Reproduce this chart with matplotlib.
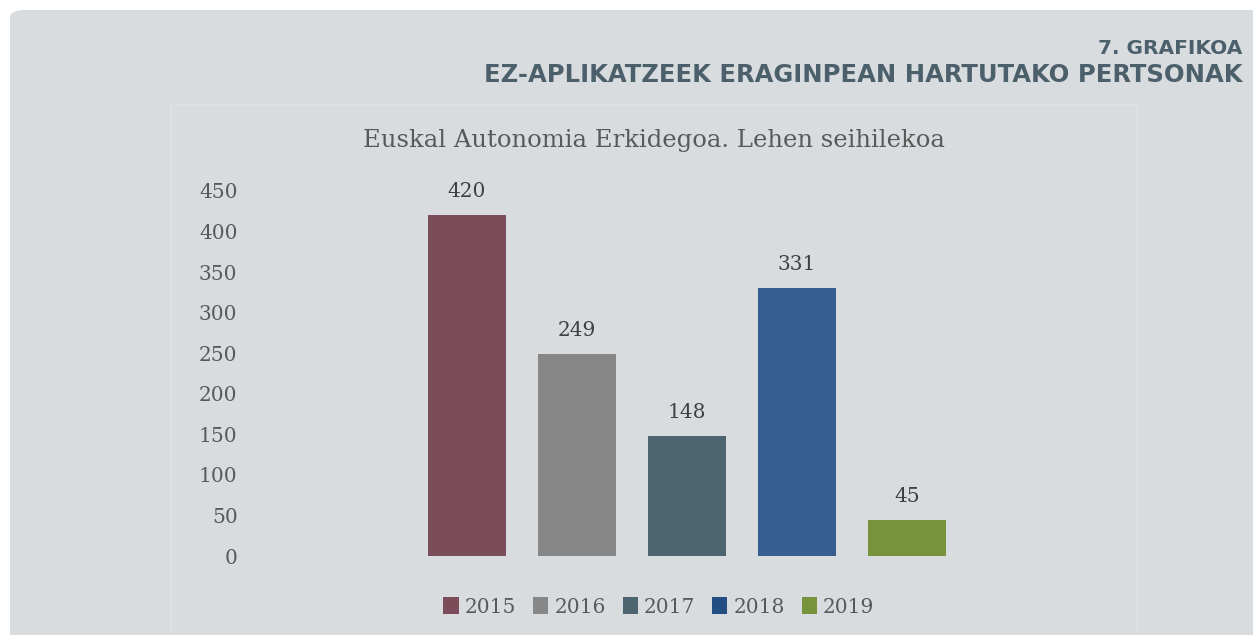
import matplotlib.pyplot as plt
from matplotlib.patches import FancyBboxPatch, Rectangle, Patch

# data
years = ['2015', '2016', '2017', '2018', '2019']
persons = [420, 249, 148, 331, 45]
yticks = [0, 50, 100, 150, 200, 250, 300, 350, 400, 450]

bar_colors = ['#7B4D5A', '#888787', '#4D6570', '#365F8F', '#77933C']
legend_colors = ['#7B4D5A', '#888787', '#4D6570', '#234E84', '#77933C']

W, H = 1253, 635
fig = plt.figure(figsize=(W / 100, H / 100), dpi=100)
fig.patch.set_facecolor('white')

# grey card behind everything
card = FancyBboxPatch((10 / W, -0.2), 1.2, 1.2 - 10 / H,
                      boxstyle='round,pad=0,rounding_size=0.012',
                      transform=fig.transFigure, facecolor='#D9DCDF',
                      edgecolor='none', zorder=-3)
fig.patches.append(card)
# faint frame of the chart area
frame = Rectangle((171 / W, -0.01), (1137 - 171) / W, 1 - 105 / H + 0.01,
                  transform=fig.transFigure, facecolor='none',
                  edgecolor='#DFE1E3', lw=1.2, zorder=-2)
fig.patches.append(frame)

head_color = '#4C606C'
fig.text(1242 / W, 1 - 49 / H, '7. GRAFIKOA', ha='right', va='center',
         fontsize=14.5, fontweight='heavy', color=head_color, family='DejaVu Sans')
fig.text(1242 / W, 1 - 75 / H, 'EZ-APLIKATZEEK ERAGINPEAN HARTUTAKO PERTSONAK',
         ha='right', va='center', fontsize=17.5, fontweight='heavy',
         color=head_color, family='DejaVu Sans')

fig.text(654 / W, 1 - 141 / H, 'Euskal Autonomia Erkidegoa. Lehen seihilekoa',
         ha='center', va='center', fontsize=17.5, color='#595959',
         family='DejaVu Serif')

ax_left, ax_right = 250, 1124
ax_top, ax_bot = 191, 556
ax = fig.add_axes([ax_left / W, 1 - ax_bot / H, (ax_right - ax_left) / W,
                   (ax_bot - ax_top) / H])
ax.patch.set_alpha(0)

x = list(range(len(years)))
ax.bar(x, persons, width=0.71, color=bar_colors, zorder=2)
for xi, v in zip(x, persons):
    ax.annotate(str(v), (xi, v), xytext=(0, 10), textcoords='offset points',
                ha='center', va='bottom', fontsize=14.5, color='#404040',
                family='DejaVu Serif')

half = (ax_right - ax_left) / 110 / 2
ax.set_xlim(2 - half, 2 + half)
ax.set_ylim(0, 450)
ax.set_yticks(yticks)
ax.set_xticks([])
ax.tick_params(axis='y', length=0, pad=9, labelsize=14.5, labelcolor='#595959')
for lab in ax.get_yticklabels():
    lab.set_family('DejaVu Serif')
for s in ax.spines.values():
    s.set_visible(False)

handles = [Patch(facecolor=c, label=y) for c, y in zip(legend_colors, years)]
leg = fig.legend(handles=handles, loc='center', bbox_to_anchor=(659 / W, 1 - 607 / H),
                 ncol=5, frameon=False, handlelength=0.75,
                 handleheight=0.9, handletextpad=0.3, columnspacing=0.85,
                 prop={'family': 'DejaVu Serif', 'size': 14.5})
for t in leg.get_texts():
    t.set_color('#595959')

fig.savefig('out.png', dpi=100, facecolor=fig.get_facecolor())
